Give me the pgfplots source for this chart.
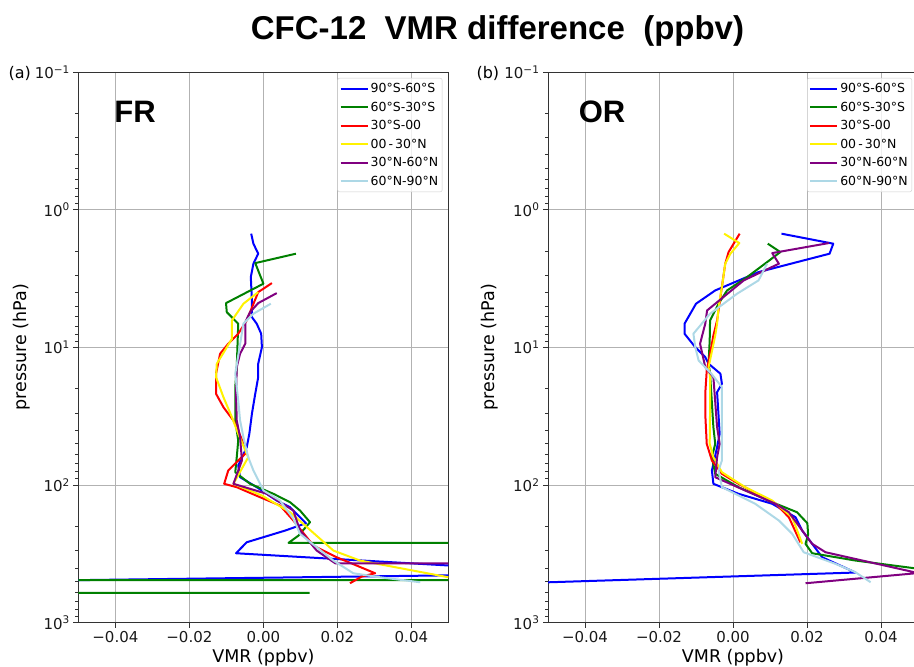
\documentclass[border=0pt]{standalone}
\usepackage{fontspec}
\setmainfont{DejaVu Sans}
\newfontfamily\titlefont{Liberation Sans}
\usepackage{pgfplots}
\pgfplotsset{compat=1.18}

\definecolor{cgreen}{RGB}{0,128,0}
\definecolor{cpurple}{RGB}{128,0,128}
\definecolor{clblue}{RGB}{173,216,230}

% shared settings for both panels
\pgfplotsset{
  scale only axis, width=370pt, height=550.7pt,
  xmin=-0.05, xmax=0.05, ymin=0.1, ymax=1000,
  scaled x ticks=false,
  tick align=outside,
  major tick length=5pt, minor tick length=3pt,
  every tick/.style={black!80, line width=0.8pt},
  axis line style={black!80, line width=0.8pt},
  major grid style={black!30, line width=0.8pt},
  tick label style={font=\fontsize{15}{17}\selectfont, black!90},
  label style={font=\fontsize{17.5}{19}\selectfont},
  legend cell align=left,
  legend style={at={(1,1)}, anchor=north east, xshift=-6pt, yshift=-6pt,
    draw=black!20, rounded corners=2pt, fill=white, fill opacity=0.8, text opacity=1,
    font=\fontsize{12.5}{14}\selectfont, row sep=3.8pt, inner xsep=2pt, inner ysep=3pt},
  legend image code/.code={\draw[#1, line width=2pt] (0pt,0pt) -- (27pt,0pt);},
}
\tikzset{ln/.style={line width=2pt, line join=round}}

\begin{document}
\begin{tikzpicture}
\useasboundingbox (0,0) rectangle (914pt,667pt);

% panel (a): FR
\begin{axis}[at={(78.3pt,44.3pt)}, anchor=south west,
  ymode=log, y dir=reverse,
  xtick={-0.04,-0.02,0,0.02,0.04},
  xticklabels={−0.04,−0.02,0.00,0.02,0.04},
  ytick={0.1,1,10,100,1000},
  yticklabels={10\textsuperscript{−1},10\textsuperscript{0},10\textsuperscript{1},10\textsuperscript{2},10\textsuperscript{3}},
  minor ytick={0.2,0.3,0.4,0.5,0.6,0.7,0.8,0.9,2,3,4,5,6,7,8,9,20,30,40,50,60,70,80,90,200,300,400,500,600,700,800,900},
  tick pos=left, grid=major,
  xlabel={VMR (ppbv)}, ylabel={pressure (hPa)},
  xlabel style={at={(axis description cs:0.5,-0.0636)}, anchor=center},
  ylabel style={at={(axis description cs:-0.154,0.5)}, anchor=center}]
\addplot[blue, ln] coordinates {(-0.0033,1.494) (-0.0027,1.766) (-0.0014,2.088) (-0.0027,2.469) (-0.0034,3.088) (-0.0031,4.562) (-0.0031,6.033) (-0.0018,6.734) (-0.0006,7.964) (-0.0004,9.97) (-0.0014,13.15) (-0.0014,16.46) (-0.0022,21.74) (-0.0031,30.37) (-0.0038,42.45) (-0.0045,53.12) (-0.0068,72.17) (-0.0063,87.76) (-0.0018,103.7) (0.0036,129.6) (0.0072,144.9) (0.0115,189.5) (0.0059,214.1) (-0.0045,260.4) (-0.0074,313.0) (0.0878,439.5) (-0.1,510.9)};
\addlegendentry{90°S-60°S}
\addplot[cgreen, ln] coordinates {(0.0088,2.088) (-0.0022,2.444) (0.0,3.449) (-0.0101,4.772) (-0.0099,5.548) (-0.0068,6.734) (-0.0072,13.92) (-0.0076,19.46) (-0.0076,33.98) (-0.0068,47.49) (-0.0072,62.81) (-0.0076,80.71) (-0.0036,97.99) (0.0027,115.8) (0.0072,133.3) (0.0099,153.2) (0.0126,186.3) (0.0095,232.8) (0.0068,263.0) (2,263.0) (2,490.1) (-2,490.1) (-2,607.3) (0.0125,607.3)};
\addlegendentry{60°S-30°S}
\addplot[red, ln] coordinates {(0.0023,3.415) (-0.0014,3.971) (-0.0045,6.374) (-0.0068,7.964) (-0.0095,9.415) (-0.0117,11.13) (-0.0128,15.55) (-0.0128,21.74) (-0.0108,27.20) (-0.0081,33.98) (-0.0068,40.16) (-0.0045,57.74) (-0.0095,78.44) (-0.0106,97.99) (-0.0072,103.7) (-0.0009,122.6) (0.0045,140.9) (0.0081,181.1) (0.0135,275.1) (0.0198,334.6) (0.0302,437.3) (0.0266,462.2) (0.0234,517.0)};
\addlegendentry{30°S-00}
\addplot[yellow, ln] coordinates {(-0.0014,3.971) (-0.0054,4.822) (-0.0085,6.374) (-0.0085,8.659) (-0.0104,10.53) (-0.0126,13.15) (-0.0128,16.46) (-0.0108,23.00) (-0.0085,32.16) (-0.0068,42.45) (-0.0041,62.81) (-0.0081,97.99) (-0.0004,119.2) (0.0072,157.6) (0.0189,299.1) (0.0261,353.6) (0.05,467.7) (0.06,482.0)};
\addlegendentry{00\,-\,30°N}
\addplot[cpurple, ln] coordinates {(0.0036,4.038) (-0.0014,4.772) (-0.0036,5.548) (-0.0049,6.558) (-0.0049,9.415) (-0.0063,11.13) (-0.0072,13.92) (-0.0074,21.74) (-0.0072,33.98) (-0.0063,44.93) (-0.0058,66.35) (-0.0081,97.99) (0.0009,115.8) (0.0081,153.2) (0.0099,214.1) (0.0144,299.1) (0.0194,370.0) (0.1,371.3)};
\addlegendentry{30°N-60°N}
\addplot[clblue, ln] coordinates {(0.002,4.822) (-0.0027,5.698) (-0.0054,6.734) (-0.0076,15.55) (-0.0068,24.31) (-0.0063,33.98) (-0.0054,44.93) (-0.0041,62.81) (-0.0027,78.44) (0.0,109.6) (0.0045,129.6) (0.0081,176.0) (0.0099,226.2) (0.0189,353.6) (0.0243,437.3) (0.0315,467.7) (0.0424,508.4)};
\addlegendentry{60°N-90°N}
\end{axis}

% panel (b): OR
\begin{axis}[at={(548pt,44.3pt)}, anchor=south west,
  ymode=log, y dir=reverse,
  xtick={-0.04,-0.02,0,0.02,0.04},
  xticklabels={−0.04,−0.02,0.00,0.02,0.04},
  ytick={0.1,1,10,100,1000},
  yticklabels={10\textsuperscript{−1},10\textsuperscript{0},10\textsuperscript{1},10\textsuperscript{2},10\textsuperscript{3}},
  minor ytick={0.2,0.3,0.4,0.5,0.6,0.7,0.8,0.9,2,3,4,5,6,7,8,9,20,30,40,50,60,70,80,90,200,300,400,500,600,700,800,900},
  tick pos=left, grid=major,
  xlabel={VMR (ppbv)}, ylabel={pressure (hPa)},
  xlabel style={at={(axis description cs:0.5,-0.0636)}, anchor=center},
  ylabel style={at={(axis description cs:-0.157,0.5)}, anchor=center}]
\addplot[blue, ln] coordinates {(0.0131,1.494) (0.0271,1.766) (0.0261,2.088) (0.0069,2.841) (-0.0048,3.859) (-0.01,4.822) (-0.0131,6.734) (-0.0131,7.964) (-0.0102,9.97) (-0.0075,11.78) (-0.0066,13.15) (-0.0034,15.55) (-0.003,18.39) (-0.0043,21.16) (-0.0036,42.45) (-0.0043,53.12) (-0.0057,78.44) (-0.0053,97.99) (0.0015,115.8) (0.0106,136.9) (0.0169,171.4) (0.0187,214.1) (0.0214,267.4) (0.0241,334.6) (0.0331,432.2) (-0.1,561.3)};
\addlegendentry{90°S-60°S}
\addplot[cgreen, ln] coordinates {(0.0094,1.766) (0.0128,2.033) (0.0038,3.088) (-0.0016,3.859) (-0.0039,4.822) (-0.0062,6.374) (-0.0063,8.909) (-0.0066,13.15) (-0.0062,15.55) (-0.0053,38.01) (-0.0048,50.18) (-0.0057,62.81) (-0.0048,82.89) (0.0015,103.7) (0.0106,133.3) (0.0173,157.6) (0.0201,189.5) (0.0203,228.8) (0.0196,267.4) (0.0214,313.0) (0.0331,353.6) (0.06,439.5)};
\addlegendentry{60°S-30°S}
\addplot[red, ln] coordinates {(0.0018,1.494) (-0.0012,2.033) (-0.0021,2.469) (-0.0043,6.374) (-0.0053,8.195) (-0.0062,11.13) (-0.0071,14.72) (-0.0075,21.74) (-0.0075,30.37) (-0.0071,50.18) (-0.0057,66.35) (-0.003,82.89) (0.0015,97.99) (0.0115,136.9) (0.0151,171.4) (0.0182,260.4)};
\addlegendentry{30°S-00}
\addplot[yellow, ln] coordinates {(-0.0024,1.494) (0.0017,1.748) (-0.0007,2.088) (-0.0021,2.469) (-0.003,3.652) (-0.0039,5.104) (-0.0043,6.734) (-0.0048,8.195) (-0.0066,13.92) (-0.0062,16.46) (-0.0062,28.74) (-0.0063,50.18) (-0.0053,62.81) (-0.003,80.71) (0.0033,103.7) (0.0106,129.6) (0.016,171.4) (0.0187,267.4)};
\addlegendentry{00\,-\,30°N}
\addplot[cpurple, ln] coordinates {(0.0259,1.748) (0.0106,2.067) (0.0124,2.469) (0.0029,3.264) (-0.007,5.393) (-0.0075,6.734) (-0.0089,9.415) (-0.0075,13.92) (-0.0053,16.46) (-0.0043,38.01) (-0.0036,50.18) (-0.0043,62.81) (-0.0048,87.76) (0.0033,109.6) (0.0115,136.9) (0.0151,157.6) (0.0187,214.1) (0.0214,267.4) (0.025,307.7) (0.05,435.9) (0.0196,517.0)};
\addlegendentry{30°N-60°N}
\addplot[clblue, ln] coordinates {(0.0092,2.469) (0.0069,3.264) (0.0011,4.078) (-0.0062,5.698) (-0.0107,7.964) (-0.0102,9.97) (-0.0093,12.45) (-0.0059,15.47) (-0.003,19.46) (-0.003,28.74) (-0.003,66.35) (-0.0039,78.44) (-0.003,103.7) (0.006,136.9) (0.0124,181.1) (0.016,226.2) (0.0191,307.7) (0.0277,373.8) (0.0331,430.1) (0.0372,508.4)};
\addlegendentry{60°N-90°N}
\end{axis}

% titles and panel labels
\node[anchor=base, font=\titlefont\bfseries\fontsize{33}{35}\selectfont] at (497.5pt,627pt) {CFC-12\ \ VMR difference\ \ (ppbv)};
\node[font=\titlefont\bfseries\fontsize{31}{33}\selectfont] at (135pt,555pt) {FR};
\node[font=\titlefont\bfseries\fontsize{31}{33}\selectfont] at (602pt,555pt) {OR};
\node[anchor=west, font=\fontsize{16}{18}\selectfont] at (5pt,594pt) {(a)};
\node[anchor=west, font=\fontsize{16}{18}\selectfont] at (473pt,594pt) {(b)};
\end{tikzpicture}
\end{document}
